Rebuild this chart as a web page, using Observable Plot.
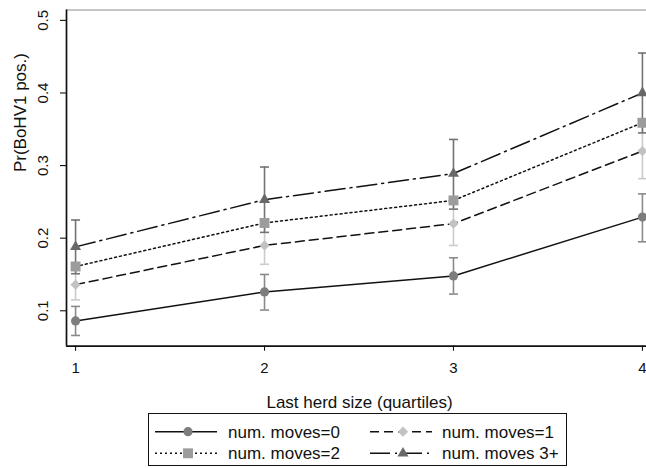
<!DOCTYPE html>
<html><head><meta charset="utf-8">
<script src="https://cdn.jsdelivr.net/npm/d3@7"></script>
<script src="https://cdn.jsdelivr.net/npm/@observablehq/plot@0.6"></script>
<style>
html,body{margin:0;padding:0;background:#fff;}
body{width:646px;height:468px;overflow:hidden;font-family:"Liberation Sans",Arial,sans-serif;}
#chart svg{display:block;overflow:visible;}
</style></head><body><div id="chart"></div><script>
// ---- data ----
const quartiles = [1, 2, 3, 4];
const xTicks = [1, 2, 3, 4];
const yTicks = [0.1, 0.2, 0.3, 0.4, 0.5];
const seriesLabels = ["num. moves=0", "num. moves=1", "num. moves=2", "num. moves 3+"];
const prMoves0 = [0.086, 0.126, 0.148, 0.229];
const loMoves0 = [0.066, 0.101, 0.123, 0.195];
const hiMoves0 = [0.106, 0.150, 0.173, 0.261];
const prMoves1 = [0.136, 0.190, 0.220, 0.320];
const loMoves1 = [0.115, 0.164, 0.190, 0.282];
const hiMoves1 = [0.157, 0.216, 0.250, 0.358];
const prMoves2 = [0.161, 0.221, 0.252, 0.359];
const loMoves2 = [0.156, 0.216, 0.247, 0.354];
const hiMoves2 = [0.166, 0.226, 0.257, 0.364];
const prMoves3 = [0.188, 0.253, 0.289, 0.400];
const loMoves3 = [0.151, 0.208, 0.240, 0.345];
const hiMoves3 = [0.225, 0.298, 0.336, 0.455];
const xTitle = "Last herd size (quartiles)";
const yTitle = "Pr(BoHV1 pos.)";

// ---- styles ----
const markerColors = ["#7d7d7d", "#c2c2c2", "#9c9c9c", "#686868"];
const ciColors = ["#8a8a8a", "#cbcbcb", "#a3a3a3", "#737373"];
const symbols = ["circle", "diamond2", "square", "triangle"];
const radii = [4.6, 4.6, 5.6, 4.1];
const dashes = [null, "9,5", "2,3", "20,5,2,5"];

const pr = [prMoves0, prMoves1, prMoves2, prMoves3];
const lo = [loMoves0, loMoves1, loMoves2, loMoves3];
const hi = [hiMoves0, hiMoves1, hiMoves2, hiMoves3];
const series = seriesLabels.map((s, i) => quartiles.map((q, j) => ({series: s, x: q, pr: pr[i][j], lo: lo[i][j], hi: hi[i][j]})));

const xDom = [0.952, 4.048];
const yDom = [0.0512, 0.5143];
const capSymbol = {draw(ctx, size) { const w = Math.sqrt(size / Math.PI); ctx.moveTo(-w, 0); ctx.lineTo(w, 0); }};

const marks = [];
// CIs
series.forEach((d, i) => {
  marks.push(Plot.ruleX(d, {x: "x", y1: "lo", y2: "hi", stroke: ciColors[i], strokeWidth: 1.6}));
  marks.push(Plot.dot(d, {x: "x", y: "lo", symbol: capSymbol, r: 4.5, stroke: ciColors[i], strokeWidth: 1.6, fill: "none"}));
  marks.push(Plot.dot(d, {x: "x", y: "hi", symbol: capSymbol, r: 4.5, stroke: ciColors[i], strokeWidth: 1.6, fill: "none"}));
});
// lines + markers
series.forEach((d, i) => {
  marks.push(Plot.line(d, {x: "x", y: "pr", stroke: "#111", strokeWidth: 1.5, strokeDasharray: dashes[i]}));
  marks.push(Plot.dot(d, {x: "x", y: "pr", symbol: symbols[i], r: radii[i], fill: markerColors[i], stroke: null}));
});

const chart = Plot.plot({
  width: 646, height: 410,
  marginLeft: 66, marginRight: 0, marginTop: 9.5, marginBottom: 64.3,
  x: {domain: xDom, range: [66, 651]},
  y: {domain: yDom},
  style: {fontFamily: '"Liberation Sans", Arial, sans-serif', background: "white", color: "#111"},
  marks: [
    Plot.ruleY([yDom[1]], {stroke: "#8c8c8c", strokeWidth: 1.2}),
    Plot.ruleX([xDom[0]], {y1: yDom[0], y2: yDom[1], stroke: "#111", strokeWidth: 1.7}),
    Plot.ruleY([yDom[0]], {x1: xDom[0], x2: xDom[1], stroke: "#111", strokeWidth: 1.7}),
    Plot.axisY({ticks: yTicks, tickSize: 6, tickFormat: () => "", label: null, strokeWidth: 1.1}),
    Plot.text(yTicks, {y: d => d, frameAnchor: "left", dx: -23, rotate: -90, text: d3.format(".1f"), fontSize: 15, textAnchor: "middle", lineAnchor: "middle", fill: "#111"}),
    Plot.axisX({ticks: xTicks, tickSize: 5, tickPadding: 11, tickFormat: d3.format("d"), fontSize: 15, label: null, strokeWidth: 1.1}),
    Plot.text([yTitle], {frameAnchor: "left", dx: -46, dy: -6, rotate: -90, fontSize: 17, lineAnchor: "middle", fill: "#111"}),
    Plot.text([xTitle], {frameAnchor: "bottom", dx: 3, dy: 61.5, lineAnchor: "bottom", fontSize: 17, fill: "#111"}),
    ...marks
  ]
});
document.getElementById("chart").appendChild(chart);

// ---- legend (below the plot) ----
const leg = d3.select("#chart").append("svg").attr("width", 646).attr("height", 58)
  .style("display", "block").style("font-family", '"Liberation Sans", Arial, sans-serif');
leg.append("rect").attr("x", 148.5).attr("y", 3.5).attr("width", 418).attr("height", 52)
  .attr("fill", "white").attr("stroke", "#111").attr("stroke-width", 1);
const colX = [155, 370], textX = [228, 442], rowY = [21.7, 43.3];
seriesLabels.forEach((s, i) => {
  const cx = colX[i % 2], ry = rowY[Math.floor(i / 2)];
  leg.append("line").attr("x1", cx).attr("x2", cx + 62).attr("y1", ry).attr("y2", ry)
    .attr("stroke", "#111").attr("stroke-width", 1.5).attr("stroke-dasharray", dashes[i]);
  const symMap = {circle: d3.symbolCircle, diamond2: d3.symbolDiamond2, square: d3.symbolSquare, triangle: d3.symbolTriangle};
  leg.append("path").attr("d", d3.symbol(symMap[symbols[i]], Math.PI * radii[i] * radii[i])())
    .attr("transform", `translate(${cx + 33},${ry})`).attr("fill", markerColors[i]);
  leg.append("text").attr("x", textX[i % 2]).attr("y", ry + 5.8).attr("font-size", 17).attr("fill", "#111").text(s);
});
</script></body></html>
